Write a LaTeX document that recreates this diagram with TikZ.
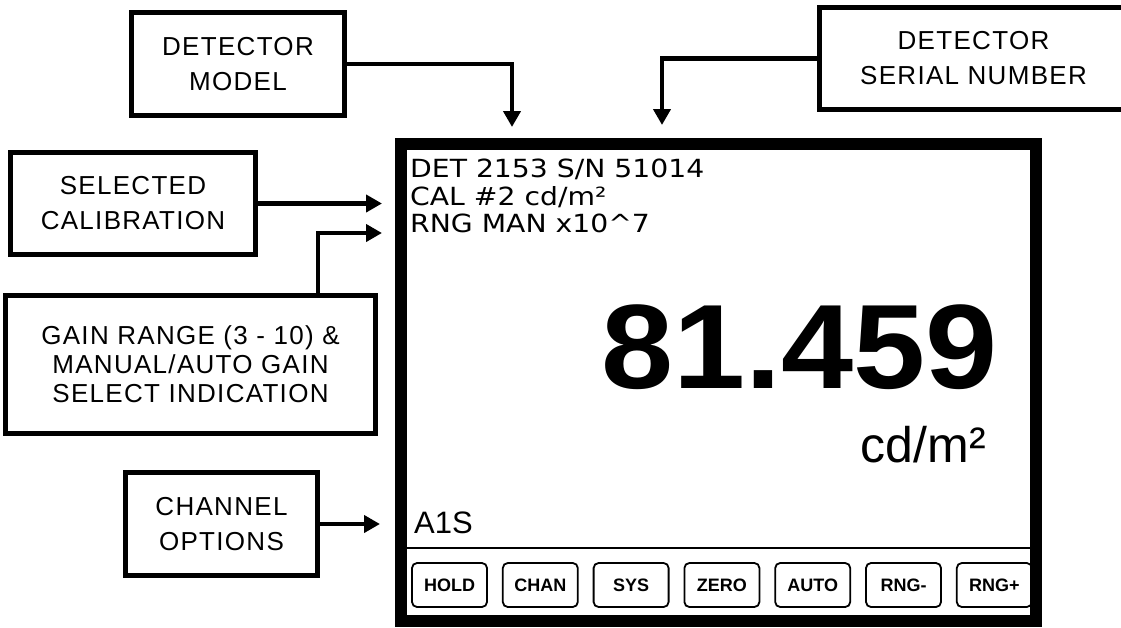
\documentclass[tikz,border=0pt]{standalone}
\usepackage{fontspec}
\setmainfont{Liberation Sans}
\newfontfamily\labelfont[LetterSpace=5]{Liberation Sans}
\newfontfamily\lcdfont[FakeStretch=1.13]{DejaVu Sans}
\newfontfamily\readfont[FakeStretch=1.08]{Liberation Sans}
\usetikzlibrary{arrows.meta,positioning}
\tikzset{
  lbox/.style  ={rectangle, draw=black, line width=5pt, fill=white, align=center,
                 inner sep=0pt, font=\labelfont\fontsize{26}{35}\selectfont},
  flow/.style  ={-{Triangle[length=16pt,width=17pt]}, line width=4.5pt, draw=black},
  screen/.style={rectangle, draw=black, line width=12pt, inner sep=0pt},
  lcd/.style   ={anchor=base west, inner sep=0pt, font=\lcdfont\fontsize{25}{25}\selectfont},
  btn/.style   ={rectangle, rounded corners=5pt, draw=black, line width=1.8pt,
                 minimum width=75pt, minimum height=44pt, inner sep=0pt,
                 font=\bfseries\fontsize{18}{18}\selectfont}
}
\begin{document}
\begin{tikzpicture}[x=1pt, y=-1pt]
\useasboundingbox (0,0) rectangle (1121,627);
\clip (0,0) rectangle (1121,627);

% ---- Display ----
\node[screen, minimum width=635pt, minimum height=477pt] (lcdpanel) at (718.5,382.5) {};
\node[lcd] (det) at (410,177) {DET 2153 S/N 51014};
\node[lcd] (cal) at (410,205) {CAL \#2 cd/m²};
\node[lcd] (rng) at (410,232) {RNG MAN x10\textasciicircum7};
\node[anchor=base east, inner sep=0pt, font=\readfont\bfseries\fontsize{120}{120}\selectfont]
  (reading) at (998,388) {81.459};
\node[anchor=base east, inner sep=0pt, font=\fontsize{50}{50}\selectfont] (unit) at (986,462) {cd/m²};
\node[anchor=base west, inner sep=0pt, font=\fontsize{31}{31}\selectfont] (chanid) at (414,533) {A1S};
\coordinate (sepl) at (407,548);
\coordinate (sepr) at (1030,548);
\draw[line width=2pt] (sepl) -- (sepr);

% ---- Soft keys ----
\node[btn] (hold) at (449.5,585) {HOLD};
\node[btn, right=14pt of hold] (chan) {CHAN};
\node[btn, right=14pt of chan] (sys) {SYS};
\node[btn, right=14pt of sys] (zero) {ZERO};
\node[btn, right=14pt of zero] (auto) {AUTO};
\node[btn, right=14pt of auto] (rngdn) {RNG-};
\node[btn, right=14pt of rngdn] (rngup) {RNG+};

% ---- Callouts ----
\node[lbox, minimum width=213pt, minimum height=103pt] (model) at (238,64) {DETECTOR\\MODEL};
\node[lbox, minimum width=308pt, minimum height=102pt] (serial) at (973.5,58.5) {DETECTOR\\SERIAL NUMBER};
\node[lbox, minimum width=245pt, minimum height=102pt] (calib) at (133,203.5) {SELECTED\\CALIBRATION};
\node[lbox, minimum width=370pt, minimum height=138pt, font=\labelfont\fontsize{26}{29}\selectfont]
  (gain) at (190.5,364.5) {GAIN RANGE (3 - 10) \&\\MANUAL/AUTO GAIN\\SELECT INDICATION};
\node[lbox, minimum width=192pt, minimum height=103pt] (chanopt) at (221.5,524) {CHANNEL\\OPTIONS};

% ---- Arrows ----
\coordinate (modeltip) at (512,127);
\coordinate (serialtip) at (662,125);
\coordinate (caltip) at (382,203);
\coordinate (gaintip) at (382,233);
\coordinate (chantip) at (380,522);
\draw[flow] (model.east) -| (modeltip);
\draw[flow] (serial.west) -| (serialtip);
\draw[flow] (calib.east) -- (calib.east -| caltip);
\draw[flow] ([xshift=127.5pt]gain.north) |- (gaintip);
\draw[flow] (chanopt.east) -- (chanopt.east -| chantip);
\end{tikzpicture}
\end{document}
